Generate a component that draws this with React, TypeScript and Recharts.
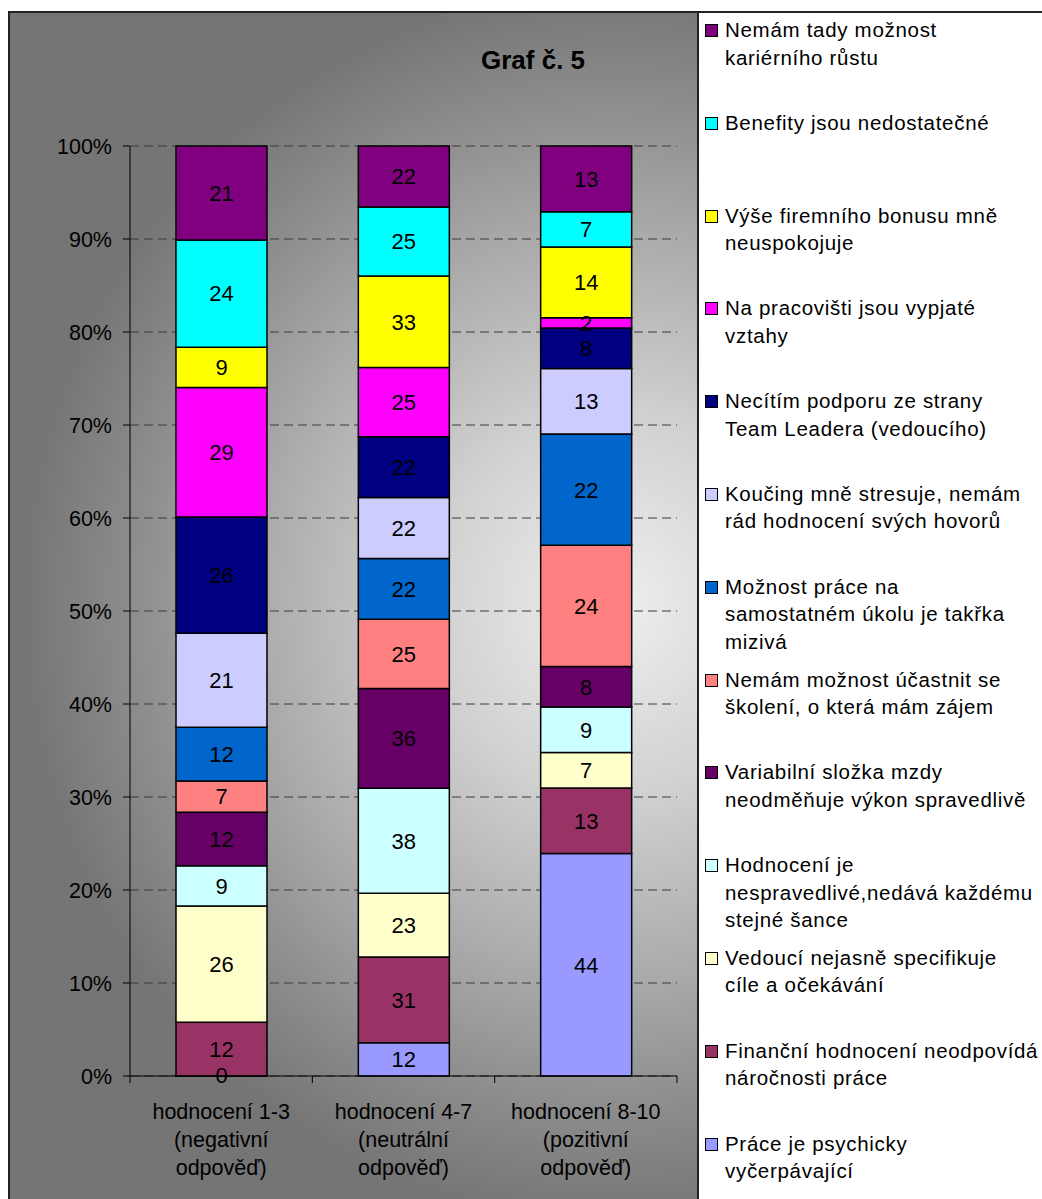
import { Bar, BarChart, CartesianGrid, LabelList, XAxis, YAxis } from "recharts";

// categories (x axis), lines split by \n
const CATEGORIES = [
  "hodnocení 1-3\n(negativní\nodpověď)",
  "hodnocení 4-7\n(neutrální\nodpověď)",
  "hodnocení 8-10\n(pozitivní\nodpověď)",
];

// series values, one per category (bottom of stack first)
const PSYCHICKY = [0, 12, 44];
const FINANCNI = [12, 31, 13];
const VEDOUCI = [26, 23, 7];
const NESPRAVEDLIVE = [9, 38, 9];
const VARIABILNI = [12, 36, 8];
const SKOLENI = [7, 25, 24];
const SAMOSTATNY = [12, 22, 22];
const KOUCING = [21, 22, 13];
const PODPORA = [26, 22, 8];
const VZTAHY = [29, 25, 2];
const BONUS = [9, 33, 14];
const BENEFITY = [24, 25, 7];
const KARIERA = [21, 22, 13];

const SERIES_NAMES = [
  "Práce je psychicky\nvyčerpávající",
  "Finanční hodnocení neodpovídá\nnáročnosti práce",
  "Vedoucí nejasně specifikuje\ncíle a očekávání",
  "Hodnocení je\nnespravedlivé,nedává každému\nstejné šance",
  "Variabilní složka mzdy\nneodměňuje výkon spravedlivě",
  "Nemám možnost účastnit se\nškolení, o která mám zájem",
  "Možnost práce na\nsamostatném úkolu je takřka\nmizivá",
  "Koučing mně stresuje, nemám\nrád hodnocení svých hovorů",
  "Necítím podporu ze strany\nTeam Leadera (vedoucího)",
  "Na pracovišti jsou vypjaté\nvztahy",
  "Výše firemního bonusu mně\nneuspokojuje",
  "Benefity jsou nedostatečné",
  "Nemám tady možnost\nkariérního růstu",
];

const SERIES_VALUES = [
  PSYCHICKY,
  FINANCNI,
  VEDOUCI,
  NESPRAVEDLIVE,
  VARIABILNI,
  SKOLENI,
  SAMOSTATNY,
  KOUCING,
  PODPORA,
  VZTAHY,
  BONUS,
  BENEFITY,
  KARIERA,
];

const SERIES_COLORS = [
  "#9999FF",
  "#993366",
  "#FFFFCC",
  "#CCFFFF",
  "#660066",
  "#FF8080",
  "#0066CC",
  "#CCCCFF",
  "#000080",
  "#FF00FF",
  "#FFFF00",
  "#00FFFF",
  "#800080",
];

const Y_TICKS = [0, 0.1, 0.2, 0.3, 0.4, 0.5, 0.6, 0.7, 0.8, 0.9, 1];

const FONT = "'Liberation Sans', Arial, sans-serif";

const data = CATEGORIES.map((name, i) => {
  const row: Record<string, string | number> = { name };
  SERIES_VALUES.forEach((vals, s) => {
    row[`s${s}`] = vals[i];
  });
  return row;
});

function CategoryTick(props: any) {
  const { x, y, payload, index } = props;
  const lines = String(payload.value).split("\n");
  const half = payload.offset ?? 91;
  return (
    <g>
      <line x1={x - half} x2={x - half} y1={y} y2={y + 7} stroke="#000" />
      {index === CATEGORIES.length - 1 && (
        <line x1={x + half} x2={x + half} y1={y} y2={y + 7} stroke="#000" />
      )}
      <text x={x} y={y + 43} textAnchor="middle" fill="#000" fontSize={21.5} fontFamily={FONT}>
        {lines.map((l, i) => (
          <tspan key={i} x={x} dy={i === 0 ? 0 : 28}>
            {l}
          </tspan>
        ))}
      </text>
    </g>
  );
}

export default function App() {
  const legendOrder = SERIES_NAMES.map((n, i) => i).reverse();
  return (
    <div
      style={{
        position: "absolute",
        left: 0,
        top: 0,
        width: 1042,
        height: 1199,
        overflow: "hidden",
        fontFamily: FONT,
        background: "#fff",
      }}
    >
      <div
        style={{
          position: "absolute",
          left: 8,
          top: 11,
          width: 689,
          height: 1188,
          background:
            "radial-gradient(ellipse 86% 52% at 88% 50%, #efefef 0%, #d2d2d2 30%, #a8a8a8 62%, #8c8c8c 82%, #757575 100%)",
          boxShadow: "inset 2px 2px 0 #222",
        }}
      >
        <div
          style={{
            position: "absolute",
            left: 473,
            top: 33,
            fontSize: 26,
            fontWeight: "bold",
            lineHeight: "32px",
            color: "#000",
          }}
        >
          Graf č. 5
        </div>
        <BarChart
          width={689}
          height={1188}
          data={data}
          stackOffset="expand"
          margin={{ top: 135, right: 20, bottom: 0, left: 0 }}
          style={{ position: "absolute", left: 0, top: 0 }}
        >
          <CartesianGrid
            horizontal
            vertical={false}
            stroke="#3a3a3a"
            strokeDasharray="9 5"
          />
          <XAxis
            dataKey="name"
            axisLine={{ stroke: "#000" }}
            tickLine={false}
            tickSize={0}
            tickMargin={0}
            interval={0}
            height={123}
            tick={<CategoryTick />}
          />
          <YAxis
            width={122}
            domain={[0, 1]}
            ticks={Y_TICKS}
            tickFormatter={(v: number) => `${Math.round(v * 100)}%`}
            axisLine={{ stroke: "#000" }}
            tickLine={{ stroke: "#000" }}
            tickSize={7}
            tickMargin={11}
            tick={{ fill: "#000", fontSize: 21.5, fontFamily: FONT }}
          />
          {SERIES_VALUES.map((_, s) => (
            <Bar
              key={s}
              dataKey={`s${s}`}
              stackId="a"
              fill={SERIES_COLORS[s]}
              stroke="#000"
              strokeWidth={1.5}
              barSize={91}
              minPointSize={1}
              isAnimationActive={false}
            >
              <LabelList
                dataKey={`s${s}`}
                position="center"
                fill="#000"
                fontSize={22}
                fontFamily={FONT}
              />
            </Bar>
          ))}
        </BarChart>
      </div>
      <div
        style={{
          position: "absolute",
          left: 697,
          top: 11,
          width: 345,
          height: 1188,
          background: "#fff",
          borderLeft: "2px solid #222",
          borderTop: "2px solid #222",
          boxSizing: "border-box",
          paddingTop: 3,
          overflow: "hidden",
        }}
      >
        {legendOrder.map((s) => (
          <div
            key={s}
            style={{
              height: 92.8,
              display: "flex",
              alignItems: "flex-start",
            }}
          >
            <span
              style={{
                width: 11,
                height: 11,
                border: "1.5px solid #000",
                background: SERIES_COLORS[s],
                marginLeft: 6,
                marginTop: 8,
                marginRight: 7,
                flexShrink: 0,
              }}
            />
            <span
              style={{
                whiteSpace: "pre",
                fontSize: 20.5,
                letterSpacing: 0.7,
                lineHeight: "27.5px",
                color: "#000",
              }}
            >
              {SERIES_NAMES[s]}
            </span>
          </div>
        ))}
      </div>
    </div>
  );
}
